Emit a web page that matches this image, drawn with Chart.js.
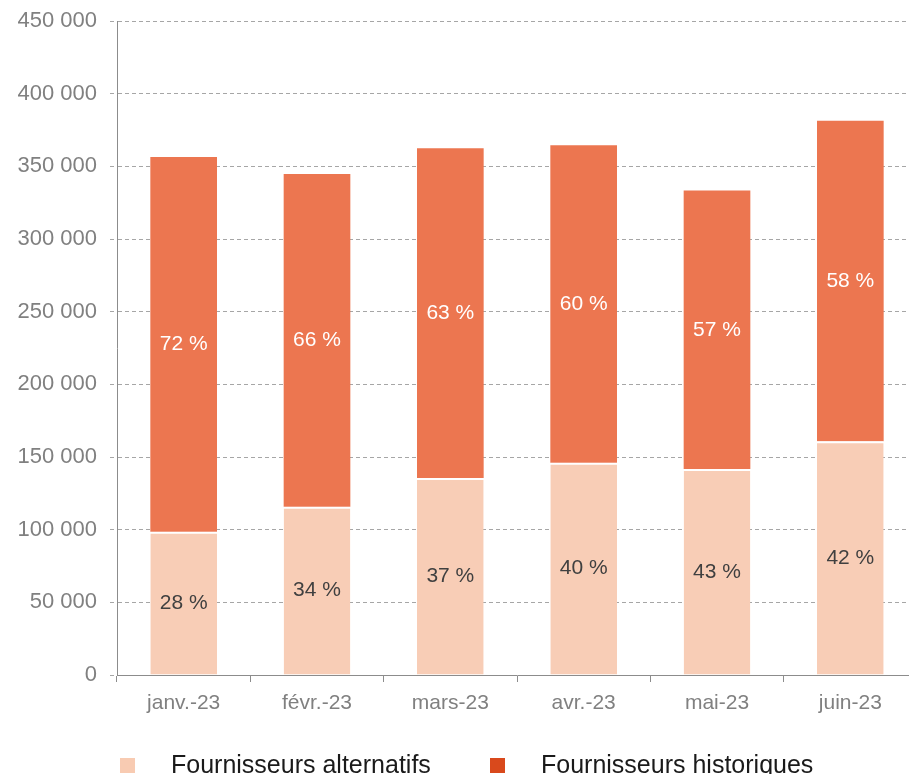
<!DOCTYPE html>
<html lang="fr">
<head>
    <meta charset="UTF-8">
    <title>Fournisseurs alternatifs et historiques</title>
    <style>
        html, body {
            margin: 0;
            padding: 0;
            background: #fff;
            overflow: hidden;
        }
        .wrap {
            width: 920px;
            height: 774px;
        }
    </style>
</head>
<body>
    <div class="wrap">
        <canvas id="chart" width="920" height="774"></canvas>
    </div>

    <script src="https://cdn.jsdelivr.net/npm/chart.js"></script>
    <script>
        // Données
        const mois = ['janv.-23', 'févr.-23', 'mars-23', 'avr.-23', 'mai-23', 'juin-23'];
        const alternatifs = [98500, 115800, 135500, 146000, 141800, 160800];
        const historiques = [258000, 229000, 227000, 218500, 191500, 220500];
        const partAlternatifs = ['28 %', '34 %', '37 %', '40 %', '43 %', '42 %'];
        const partHistoriques = ['72 %', '66 %', '63 %', '60 %', '57 %', '58 %'];

        const gris = '#8c8c8c';
        const police = '"Liberation Sans", Arial, sans-serif';

        // Pourcentages au centre de chaque segment
        const etiquettes = {
            id: 'etiquettes',
            afterDatasetsDraw(chart) {
                const ctx = chart.ctx;
                ctx.save();
                ctx.font = '21px ' + police;
                ctx.textAlign = 'center';
                ctx.textBaseline = 'middle';
                chart.data.datasets.forEach((ds, i) => {
                    const meta = chart.getDatasetMeta(i);
                    const textes = i === 0 ? partAlternatifs : partHistoriques;
                    ctx.fillStyle = i === 0 ? '#404040' : '#ffffff';
                    meta.data.forEach((bar, j) => {
                        ctx.fillText(textes[j], bar.x, (bar.y + bar.base) / 2);
                    });
                });
                ctx.restore();
            }
        };

        // Légende en bas
        const legende = {
            id: 'legende',
            afterDraw(chart) {
                const ctx = chart.ctx;
                const items = [
                    { texte: 'Fournisseurs alternatifs', couleur: '#f8cbb2', x: 120 },
                    { texte: 'Fournisseurs historiques', couleur: '#d9491c', x: 490 }
                ];
                ctx.save();
                ctx.font = '25px ' + police;
                ctx.textBaseline = 'middle';
                items.forEach(it => {
                    ctx.fillStyle = it.couleur;
                    ctx.fillRect(it.x, 758, 15, 15);
                    ctx.fillStyle = '#1a1a1a';
                    ctx.fillText(it.texte, it.x + 51, 766);
                });
                ctx.restore();
            }
        };

        new Chart(document.getElementById('chart'), {
            type: 'bar',
            data: {
                labels: mois,
                datasets: [
                    {
                        label: 'Fournisseurs alternatifs',
                        data: alternatifs,
                        backgroundColor: '#f8cdb6',
                        borderColor: '#ffffff',
                        borderWidth: { top: 2, left: 0, right: 0, bottom: 0 },
                        borderSkipped: false
                    },
                    {
                        label: 'Fournisseurs historiques',
                        data: historiques,
                        backgroundColor: '#ec7650',
                        borderWidth: 0
                    }
                ]
            },
            options: {
                responsive: false,
                animation: false,
                devicePixelRatio: 1,
                layout: {
                    padding: { top: 21, right: 3, bottom: 59, left: 0 }
                },
                datasets: {
                    bar: { barPercentage: 0.5, categoryPercentage: 1.0 }
                },
                scales: {
                    x: {
                        stacked: true,
                        grid: {
                            offset: true,
                            drawOnChartArea: false,
                            tickLength: 7,
                            tickColor: gris
                        },
                        border: { display: true, color: gris, width: 1 },
                        ticks: {
                            color: '#808080',
                            font: { family: police, size: 21 },
                            padding: 9,
                            maxRotation: 0
                        },
                        afterFit(scale) { scale.height = 40; }
                    },
                    y: {
                        stacked: true,
                        min: 0,
                        max: 450000,
                        grid: {
                            color: c => c.tick && c.tick.value === 0 ? 'rgba(0,0,0,0)' : '#a6a6a6',
                            tickColor: '#a6a6a6',
                            tickLength: 7,
                            tickBorderDash: [4, 3]
                        },
                        border: { display: true, color: gris, width: 1, dash: [4, 3] },
                        ticks: {
                            stepSize: 50000,
                            color: '#808080',
                            padding: 13,
                            font: { family: police, size: 22 },
                            callback: v => v.toLocaleString('fr-FR').replace(/\s/g, ' ')
                        },
                        afterFit(scale) {
                            scale.width = 117;
                            scale.paddingTop = 0;
                            scale.paddingBottom = 0;
                        }
                    }
                },
                plugins: {
                    legend: { display: false },
                    tooltip: { enabled: false }
                }
            },
            plugins: [etiquettes, legende]
        });
    </script>
</body>
</html>
